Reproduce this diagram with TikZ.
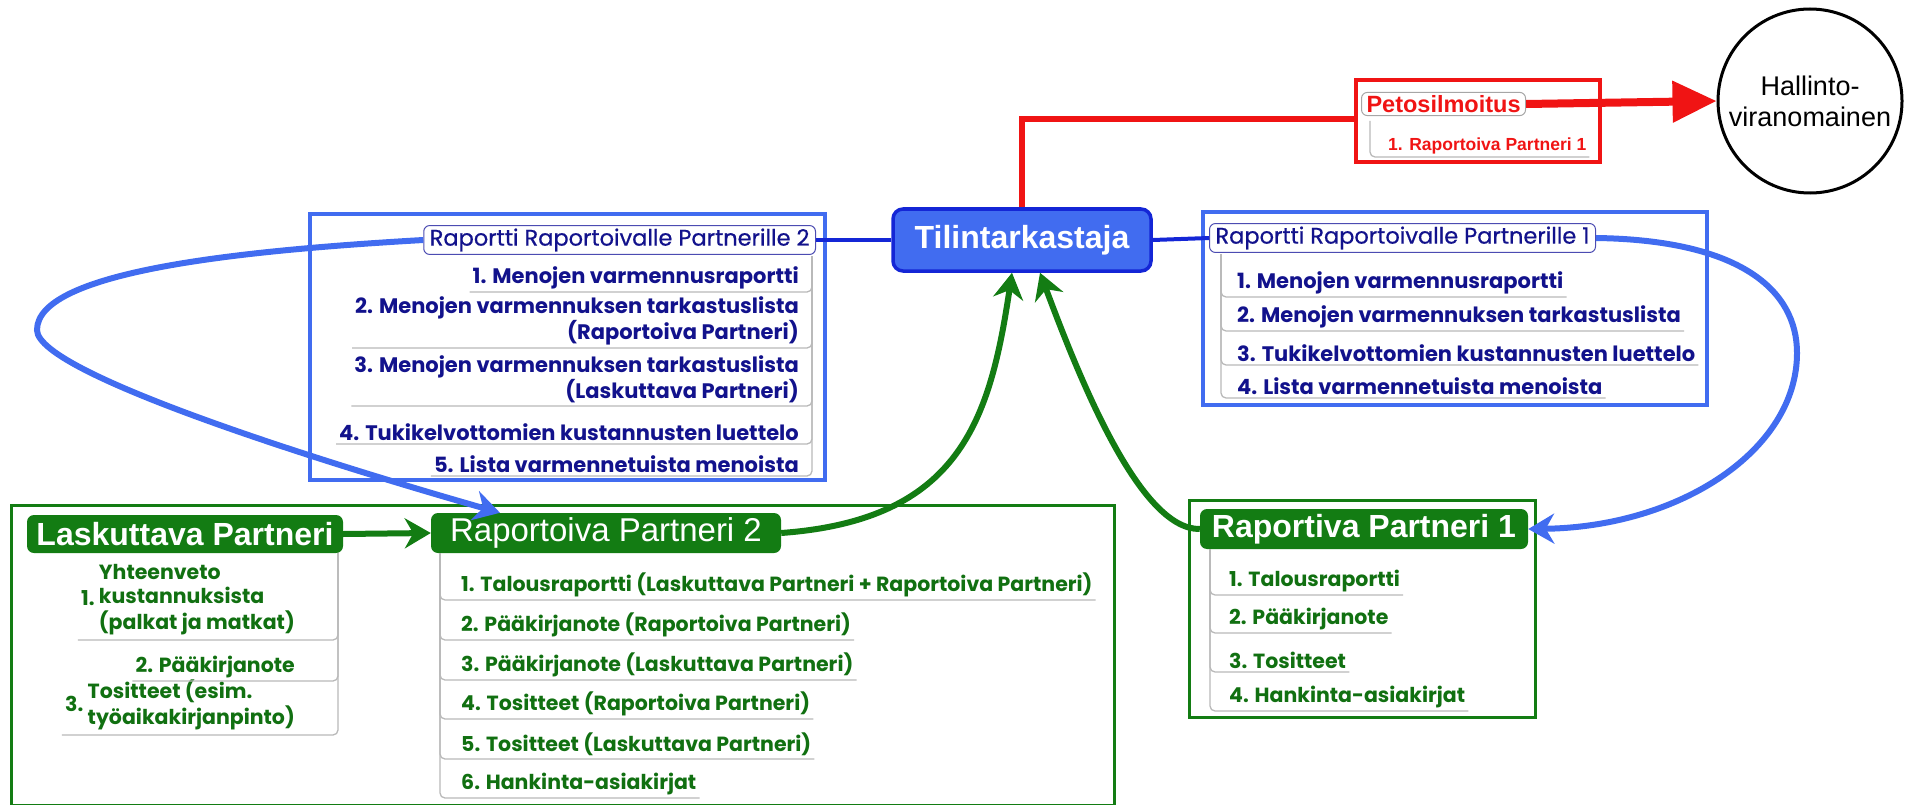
\documentclass[tikz,border=0pt]{standalone}
\usepackage{fontspec}
\setmainfont{Liberation Sans}
\newfontfamily\gothic{Poppins}
\newfontfamily\gothicmed{Poppins}[FakeBold=0.6]
\usepackage{xcolor}
\usetikzlibrary{arrows.meta}

\definecolor{mapblue}{HTML}{416CF0}
\definecolor{deepblue}{HTML}{1426D6}
\definecolor{navy}{HTML}{12128C}
\definecolor{mapgreen}{HTML}{137C13}
\definecolor{mapred}{HTML}{F01414}

\tikzset{
  blueframe/.style={draw=mapblue, line width=3.5pt},
  greenframe/.style={draw=mapgreen, line width=3pt},
  redframe/.style={draw=mapred, line width=3.5pt},
  auditor/.style={draw=deepblue, line width=3.5pt, fill=mapblue, rounded corners=10pt,
    text=white, font=\fontsize{32}{36}\selectfont\bfseries},
  bluehead/.style={draw=gray!60!blue, line width=1pt, fill=white, rounded corners=6pt,
    text=navy, font=\gothicmed\fontsize{22.5}{25}\selectfont, inner xsep=6pt, inner ysep=3pt},
  greenhead/.style={fill=mapgreen, rounded corners=7pt, text=white,
    font=\fontsize{33}{36}\selectfont, inner sep=3pt},
  redhead/.style={draw=gray!70, line width=1pt, fill=white, rounded corners=6pt,
    text=mapred, font=\fontsize{23.5}{26}\selectfont\bfseries, inner xsep=5pt, inner ysep=3pt},
  blueitem/.style={text=navy, font=\gothic\bfseries\fontsize{21}{24}\selectfont, inner sep=3pt},
  greenitem/.style={text=mapgreen!90!black, font=\gothic\bfseries\fontsize{20.5}{24}\selectfont, inner sep=3pt},
  uline/.style={draw=gray!55, line width=1.3pt, rounded corners=5pt},
  bluelink/.style={draw=mapblue, line width=6pt, -{Stealth[length=26pt,width=30pt]}},
  greenlink/.style={draw=mapgreen, line width=6pt, -{Stealth[length=26pt,width=30pt]}},
  redlink/.style={draw=mapred, line width=6pt},
}

\begin{document}
\begin{tikzpicture}[x=1pt, y=-1pt]
    \useasboundingbox (0,0) rectangle (1905,805);

    % Tilintarkastaja
    \node[auditor, minimum width=258pt, minimum height=62pt] (tili) at (1022,240) {Tilintarkastaja};

    % Hallintoviranomainen
    \node[draw, line width=3pt, circle, minimum size=184pt, inner sep=0pt, align=center,
      font=\fontsize{27}{31}\selectfont] (hallinto) at (1810,101) {Hallinto-\\viranomainen};

    % Petosilmoitus
    \draw[redframe] (1356,80) rectangle (1600,162);
    \coordinate (petoin) at (1356,119);
    \node[redhead, anchor=west] (peto) at (1361,104) {Petosilmoitus};
    \coordinate (petosp) at (1370,121);
    \node[text=mapred, font=\fontsize{17.5}{20}\selectfont\bfseries, anchor=south west, inner sep=3pt]
      (peto1) at (1385,157) {1. Raportoiva Partneri 1};
    \draw[uline] (petosp) |- (peto1.south east);

    % Raportti Raportoivalle Partnerille 2
    \draw[blueframe] (310,214) rectangle (825,480);
    \node[bluehead, anchor=east] (rep2) at (816,240) {Raportti Raportoivalle Partnerille 2};
    \coordinate (rep2sp) at (812,256);
    \node[blueitem, anchor=south east] (rep2a) at (802,292) {1. Menojen varmennusraportti};
    \node[blueitem, anchor=south east, align=right] (rep2b) at (802,348)
      {2. Menojen varmennuksen tarkastuslista\\(Raportoiva Partneri)};
    \node[blueitem, anchor=south east, align=right] (rep2c) at (802,406)
      {3. Menojen varmennuksen tarkastuslista\\(Laskuttava Partneri)};
    \node[blueitem, anchor=south east] (rep2d) at (802,444) {4. Tukikelvottomien kustannusten luettelo};
    \node[blueitem, anchor=south east] (rep2e) at (802,476) {5. Lista varmennetuista menoista};
    \foreach \n in {a,b,c,d,e}
      \draw[uline] (rep2sp) |- (rep2\n.south west);

    % Raportti Raportoivalle Partnerille 1
    \draw[blueframe] (1203,212) rectangle (1707,405);
    \node[bluehead, anchor=west] (rep1) at (1209,238) {Raportti Raportoivalle Partnerille 1};
    \coordinate (rep1sp) at (1221,254);
    \node[blueitem, anchor=south west] (rep1a) at (1234,297) {1. Menojen varmennusraportti};
    \node[blueitem, anchor=south west] (rep1b) at (1234,331) {2. Menojen varmennuksen tarkastuslista};
    \node[blueitem, anchor=south west] (rep1c) at (1234,365) {3. Tukikelvottomien kustannusten luettelo};
    \node[blueitem, anchor=south west] (rep1d) at (1234,398) {4. Lista varmennetuista menoista};
    \foreach \n in {a,b,c,d}
      \draw[uline] (rep1sp) |- (rep1\n.south east);

    % Laskuttava / Raportoiva Partneri 2
    \draw[greenframe] (11,505) rectangle (1114,805);
    \node[greenhead, font=\fontsize{32}{36}\selectfont\bfseries, minimum width=316pt,
      minimum height=38pt] (lask) at (185,534) {Laskuttava Partneri};
    \coordinate (lasksp) at (338,553);
    \node[greenitem, anchor=south east] (laska) at (298,640)
      {1.~\begin{tabular}{@{}l@{}}Yhteenveto\\kustannuksista\\(palkat ja matkat)\end{tabular}};
    \node[greenitem, anchor=south east] (laskb) at (298,681) {2. Pääkirjanote};
    \node[greenitem, anchor=south east] (laskc) at (298,735)
      {3.~\begin{tabular}{@{}l@{}}Tositteet (esim.\\työaikakirjanpinto)\end{tabular}};
    \foreach \n in {a,b,c}
      \draw[uline] (lasksp) |- (lask\n.south west);

    \node[greenhead, minimum width=350pt, minimum height=40pt] (rap2) at (606,533) {Raportoiva Partneri 2};
    \coordinate (rap2sp) at (440,553);
    \node[greenitem, anchor=south west] (rap2a) at (458,600)
      {1. Talousraportti (Laskuttava Partneri + Raportoiva Partneri)};
    \node[greenitem, anchor=south west] (rap2b) at (458,640) {2. Pääkirjanote (Raportoiva Partneri)};
    \node[greenitem, anchor=south west] (rap2c) at (458,680) {3. Pääkirjanote (Laskuttava Partneri)};
    \node[greenitem, anchor=south west] (rap2d) at (458,719) {4. Tositteet (Raportoiva Partneri)};
    \node[greenitem, anchor=south west] (rap2e) at (458,759) {5. Tositteet (Laskuttava Partneri)};
    \node[greenitem, anchor=south west] (rap2f) at (458,798) {6. Hankinta-asiakirjat};
    \foreach \n in {a,b,c,d,e,f}
      \draw[uline] (rap2sp) |- (rap2\n.south east);

    % Raportiva Partneri 1
    \draw[greenframe] (1189,500) rectangle (1535,717);
    \node[greenhead, font=\fontsize{32}{36}\selectfont\bfseries, minimum width=328pt,
      minimum height=40pt] (rap1) at (1364,529) {Raportiva Partneri 1};
    \coordinate (rap1sp) at (1210,549);
    \node[greenitem, anchor=south west] (rap1a) at (1226,595) {1. Talousraportti};
    \node[greenitem, anchor=south west] (rap1b) at (1226,633) {2. Pääkirjanote};
    \node[greenitem, anchor=south west] (rap1c) at (1226,672) {3. Tositteet};
    \node[greenitem, anchor=south west] (rap1d) at (1226,711) {4. Hankinta-asiakirjat};
    \foreach \n in {a,b,c,d}
      \draw[uline] (rap1sp) |- (rap1\n.south east);

    % Links from auditor to reports
    \draw[draw=deepblue, line width=4pt] (tili.west) -- (rep2.east);
    \draw[draw=deepblue, line width=4pt] (tili.east) -- (rep1.west);

    % Fraud report
    \draw[redlink] (tili.north) |- (petoin);
    \draw[redlink, line width=8pt, -{Triangle[length=44pt,width=40pt]}] (peto.east) -- (hallinto.west);

    % Reports back to partners
    \draw[bluelink] (rep2.west) .. controls (250,250) and (37,270) .. (37,330)
      .. controls (37,375) and (350,470) .. (rap2.north west -| 500,0);
    \draw[bluelink] (rep1.east) .. controls (1740,240) and (1797,290) .. (1797,353)
      .. controls (1797,450) and (1680,527) .. (rap1.east);

    % Partners to auditor
    \draw[greenlink] (lask.east) -- (rap2.west);
    \draw[greenlink] (rap2.east) .. controls (960,520) and (990,420) .. (tili.south -| 1012,0);
    \draw[greenlink] (rap1.west) .. controls (1140,530) and (1080,380) .. (tili.south -| 1040,0);
\end{tikzpicture}
\end{document}
